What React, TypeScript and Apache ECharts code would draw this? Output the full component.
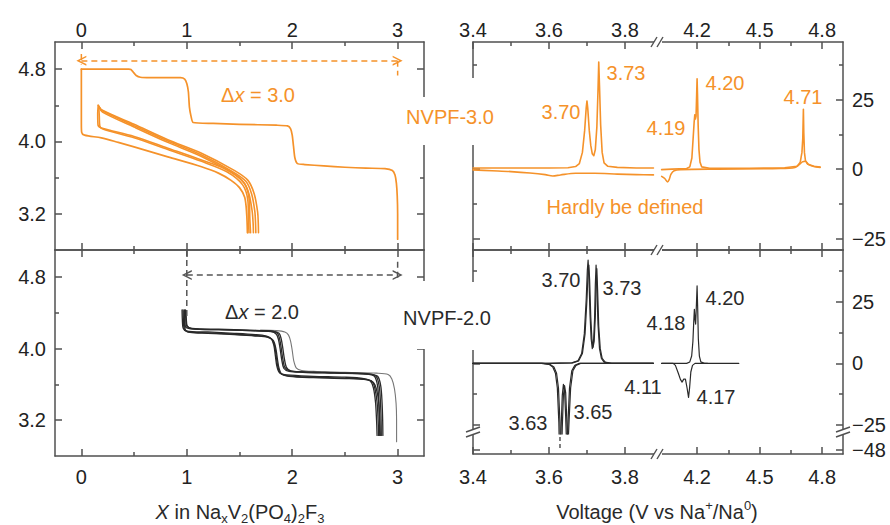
import React, { useEffect, useRef } from 'react';
import * as echarts from 'echarts';

const ORANGE = '#F5922A';
const INK = '#2a2a2a';
const FRAME = '#505050';
const FONT = '"Liberation Sans", Arial, Helvetica, sans-serif';
const FS = 20;

// ---------- tick values ----------
const X_MAJOR = [0, 1, 2, 3];
const X_MINOR = [0.5, 1.5, 2.5];
const V_MAJOR = [3.2, 4.0, 4.8];
const V_MINOR = [3.6, 4.4];
const LOW_MAJOR = [3.4, 3.6, 3.8];
const LOW_MINOR = [3.5, 3.7];
const HIGH_MAJOR = [4.2, 4.5, 4.8];
const HIGH_MINOR = [4.35, 4.65];
const DQ_MAJOR = [-25, 0, 25];
const DQ_MINOR = [-12.5, 12.5, 37.5];
const STRIP_MAJOR = [-48];

// ---------- axis ranges ----------
const X_RANGE = [-0.25, 3.25];
const V_RANGE = [2.8, 5.1];
const LOW_RANGE = [3.4, 3.887];
const HIGH_RANGE = [4.0125, 4.9];
const DQ3_RANGE = [-29.1, 45.7];
const DQ2_RANGE = [-28.7, 46.1];
const STRIP_RANGE = [-49.6, -41.4];

// ---------- NVPF-3.0 voltage profiles (x in NaxV2(PO4)2F3, V) ----------
const NVPF3_FIRST_CHARGE = [
  [3.0, 2.92], [3.0, 3.2], [2.996, 3.4], [2.988, 3.54], [2.975, 3.63], [2.95, 3.68], [2.88, 3.7],
  [2.7, 3.705], [2.5, 3.715], [2.3, 3.73], [2.12, 3.745], [2.05, 3.755], [2.025, 3.82], [2.012, 3.95],
  [2.0, 4.07], [1.985, 4.14], [1.955, 4.172], [1.85, 4.18], [1.5, 4.19], [1.25, 4.2], [1.06, 4.21],
  [1.04, 4.28], [1.025, 4.38], [1.015, 4.55], [1.0, 4.64], [0.98, 4.69], [0.94, 4.705], [0.8, 4.705],
  [0.65, 4.705], [0.56, 4.71], [0.52, 4.73], [0.49, 4.77], [0.47, 4.795], [0.45, 4.8], [0.2, 4.8], [0.0, 4.8],
];
const NVPF3_FIRST_DISCHARGE = [
  [0.0, 4.8], [0.0, 4.5], [0.0, 4.2], [0.003, 4.1], [0.03, 4.07], [0.19, 4.04], [0.35, 3.99], [0.5, 3.94],
  [0.82, 3.83], [1.14, 3.72], [1.3, 3.65], [1.42, 3.57], [1.5, 3.49], [1.55, 3.38], [1.568, 3.2], [1.575, 2.99],
];
const NVPF3_CHARGE_2 = [
  [1.68, 2.99], [1.678, 3.1], [1.672, 3.22], [1.64, 3.42], [1.58, 3.57], [1.45, 3.68], [1.14, 3.87],
  [0.82, 4.02], [0.5, 4.19], [0.19, 4.35], [0.16, 4.4],
];
const NVPF3_CHARGE_3 = [
  [1.655, 2.99], [1.652, 3.1], [1.645, 3.23], [1.615, 3.42], [1.56, 3.56], [1.43, 3.67], [1.13, 3.855],
  [0.82, 4.005], [0.5, 4.175], [0.2, 4.34], [0.165, 4.39],
];
const NVPF3_CHARGE_4 = [
  [1.632, 2.99], [1.629, 3.1], [1.62, 3.23], [1.59, 3.42], [1.54, 3.55], [1.42, 3.66], [1.13, 3.84],
  [0.82, 3.99], [0.5, 4.16], [0.2, 4.325], [0.17, 4.38],
];
const NVPF3_DISCHARGE_2 = [
  [0.16, 4.4], [0.155, 4.3], [0.158, 4.18], [0.19, 4.15], [0.5, 4.056], [0.82, 3.926], [1.14, 3.795],
  [1.39, 3.684], [1.546, 3.535], [1.593, 3.349], [1.598, 3.15], [1.605, 2.99],
];
const NVPF3_DISCHARGE_3 = [
  [0.165, 4.39], [0.17, 4.28], [0.175, 4.17], [0.21, 4.135], [0.5, 4.04], [0.82, 3.91], [1.14, 3.78],
  [1.38, 3.665], [1.53, 3.52], [1.58, 3.34], [1.585, 3.15], [1.59, 2.99],
];

// ---------- NVPF-2.0 voltage profiles ----------
const NVPF2_DISCHARGE_1 = [
  [0.955, 4.43], [0.958, 4.32], [0.965, 4.23], [1.0, 4.195], [1.2, 4.185], [1.45, 4.17], [1.65, 4.155],
  [1.75, 4.14], [1.8, 4.11], [1.825, 4.04], [1.84, 3.92], [1.855, 3.8], [1.88, 3.73], [1.95, 3.705],
  [2.2, 3.69], [2.5, 3.68], [2.68, 3.665], [2.74, 3.64], [2.77, 3.56], [2.79, 3.4], [2.8, 3.2], [2.805, 3.03],
];
const NVPF2_DISCHARGE_2 = [
  [0.965, 4.43], [0.968, 4.32], [0.975, 4.22], [1.02, 4.185], [1.2, 4.175], [1.45, 4.16], [1.65, 4.145],
  [1.76, 4.13], [1.81, 4.1], [1.835, 4.02], [1.85, 3.9], [1.865, 3.79], [1.89, 3.72], [1.96, 3.695],
  [2.2, 3.68], [2.5, 3.67], [2.7, 3.655], [2.76, 3.63], [2.785, 3.55], [2.805, 3.4], [2.815, 3.2], [2.82, 3.03],
];
const NVPF2_DISCHARGE_3 = [
  [0.975, 4.42], [0.978, 4.31], [0.985, 4.21], [1.03, 4.18], [1.2, 4.17], [1.45, 4.155], [1.65, 4.14],
  [1.77, 4.125], [1.82, 4.09], [1.845, 4.0], [1.86, 3.88], [1.875, 3.78], [1.9, 3.715], [1.97, 3.69],
  [2.2, 3.675], [2.5, 3.665], [2.71, 3.65], [2.77, 3.62], [2.8, 3.54], [2.82, 3.4], [2.83, 3.2], [2.835, 3.03],
];
const NVPF2_CHARGE_1 = [
  [2.83, 3.03], [2.828, 3.2], [2.822, 3.4], [2.81, 3.58], [2.78, 3.69], [2.7, 3.715], [2.4, 3.725],
  [2.1, 3.735], [1.97, 3.745], [1.92, 3.78], [1.9, 3.88], [1.885, 4.0], [1.87, 4.1], [1.85, 4.16],
  [1.8, 4.19], [1.6, 4.2], [1.3, 4.21], [1.05, 4.22], [0.99, 4.24], [0.98, 4.33], [0.978, 4.43],
];
const NVPF2_CHARGE_2 = [
  [2.845, 3.03], [2.843, 3.2], [2.837, 3.4], [2.825, 3.58], [2.795, 3.69], [2.71, 3.72], [2.4, 3.73],
  [2.1, 3.74], [1.98, 3.75], [1.93, 3.79], [1.91, 3.89], [1.895, 4.01], [1.88, 4.11], [1.86, 4.17],
  [1.81, 4.195], [1.6, 4.205], [1.3, 4.215], [1.05, 4.225], [1.0, 4.25], [0.99, 4.34], [0.988, 4.43],
];
const NVPF2_CHARGE_3 = [
  [2.86, 3.03], [2.858, 3.2], [2.852, 3.4], [2.84, 3.58], [2.81, 3.69], [2.72, 3.715], [2.4, 3.728],
  [2.1, 3.738], [1.99, 3.748], [1.945, 3.79], [1.925, 3.89], [1.91, 4.01], [1.895, 4.11], [1.875, 4.17],
  [1.82, 4.19], [1.6, 4.2], [1.3, 4.21], [1.05, 4.22], [1.005, 4.25], [0.995, 4.34], [0.993, 4.42],
];
const NVPF2_OUTLIER = [
  [2.99, 2.96], [2.99, 3.2], [2.985, 3.39], [2.97, 3.55], [2.945, 3.66], [2.91, 3.71], [2.8, 3.725],
  [2.5, 3.735], [2.2, 3.745], [2.09, 3.755], [2.04, 3.78], [2.015, 3.86], [2.0, 3.98], [1.985, 4.08],
  [1.965, 4.15], [1.93, 4.185], [1.85, 4.2], [1.7, 4.205],
];

// ---------- dQ/dV, NVPF-3.0 (V, dQ/dV) ----------
const NVPF3_DQ_CHARGE_LOW = [
  [3.4, 0.4], [3.5, 0.4], [3.6, 0.4], [3.65, 0.5], [3.67, 0.9], [3.68, 2], [3.688, 6], [3.694, 14],
  [3.698, 22], [3.7, 24.5], [3.702, 22], [3.706, 14], [3.71, 8.5], [3.714, 5.5], [3.718, 4.8], [3.722, 7],
  [3.726, 15], [3.729, 28], [3.731, 38.5], [3.733, 30], [3.736, 16], [3.74, 6], [3.745, 2.2], [3.755, 1],
  [3.78, 0.6], [3.83, 0.4], [3.875, 0.4],
];
const NVPF3_DQ_DISCHARGE_LOW = [
  [3.4, -0.3], [3.45, -0.6], [3.5, -0.9], [3.55, -1.4], [3.59, -2.0], [3.61, -2.5], [3.63, -2.1],
  [3.67, -1.5], [3.72, -1.5], [3.78, -1.8], [3.83, -2.0], [3.875, -2.1],
];
const NVPF3_DQ_CHARGE_HIGH = [
  [4.03, -0.2], [4.08, 0], [4.15, 0.2], [4.165, 0.8], [4.175, 4], [4.181, 11], [4.186, 17], [4.189, 19.5],
  [4.192, 18], [4.195, 19], [4.198, 27], [4.2, 32.5], [4.202, 27], [4.205, 16], [4.209, 7], [4.214, 2.5],
  [4.222, 0.8], [4.26, 0.3], [4.45, 0.3], [4.62, 0.5], [4.68, 1], [4.695, 2.5], [4.703, 6], [4.707, 11],
  [4.71, 21.5], [4.712, 13], [4.715, 6], [4.72, 3], [4.73, 1.8], [4.76, 1], [4.79, 0.7],
];
const NVPF3_DQ_DISCHARGE_HIGH = [
  [4.03, -2.6], [4.045, -3.4], [4.058, -4.6], [4.066, -3.8], [4.075, -1.8], [4.09, -0.6], [4.12, -0.2],
  [4.3, 0], [4.6, 0.2], [4.67, 0.6], [4.69, 1.6], [4.705, 2.6], [4.72, 2.8], [4.735, 1.6], [4.76, 0.9], [4.79, 0.6],
];

// ---------- dQ/dV, NVPF-2.0 ----------
const NVPF2_DQ_CHARGE_LOW_A = [
  [3.4, 0], [3.6, 0], [3.66, 0.2], [3.676, 1], [3.686, 4], [3.693, 12], [3.698, 26], [3.701, 38],
  [3.703, 42], [3.705, 36], [3.708, 20], [3.711, 10], [3.714, 6], [3.717, 8], [3.72, 18], [3.722, 32],
  [3.724, 40], [3.726, 32], [3.729, 16], [3.733, 6], [3.738, 2], [3.745, 0.5], [3.76, 0], [3.875, 0],
];
const NVPF2_DQ_CHARGE_LOW_B = [
  [3.4, 0], [3.6, 0], [3.662, 0.2], [3.678, 1], [3.688, 4], [3.695, 12], [3.7, 26], [3.703, 37],
  [3.705, 40], [3.707, 34], [3.71, 19], [3.713, 10], [3.716, 6.5], [3.719, 9], [3.722, 19], [3.724, 31],
  [3.726, 38.5], [3.728, 30], [3.731, 15], [3.735, 6], [3.74, 2], [3.748, 0.5], [3.765, 0], [3.875, 0],
];
const NVPF2_DQ_DISCHARGE_LOW_A = [
  [3.4, 0], [3.58, 0], [3.6, -0.4], [3.61, -1.5], [3.617, -4], [3.622, -10], [3.626, -24], [3.629, -47],
  [3.632, -26], [3.635, -13], [3.638, -8.5], [3.641, -11], [3.644, -22], [3.647, -36], [3.65, -24],
  [3.654, -10], [3.66, -3], [3.668, -0.8], [3.68, 0], [3.875, 0],
];
const NVPF2_DQ_DISCHARGE_LOW_B = [
  [3.4, 0], [3.585, 0], [3.603, -0.4], [3.613, -1.5], [3.62, -4], [3.625, -10], [3.629, -24], [3.632, -46],
  [3.635, -26], [3.638, -13], [3.641, -9], [3.644, -12], [3.647, -23], [3.65, -34], [3.653, -23],
  [3.657, -10], [3.663, -3], [3.671, -0.8], [3.683, 0], [3.875, 0],
];
const NVPF2_DQ_CHARGE_HIGH = [
  [4.03, 0], [4.15, 0], [4.165, 0.6], [4.174, 3], [4.18, 9], [4.184, 17], [4.187, 22], [4.19, 18],
  [4.193, 16], [4.196, 22], [4.2, 31.5], [4.203, 22], [4.206, 10], [4.211, 3], [4.218, 0.6], [4.235, 0], [4.4, 0],
];
const NVPF2_DQ_DISCHARGE_HIGH = [
  [4.03, 0], [4.085, 0], [4.096, -0.8], [4.11, -4], [4.12, -6.5], [4.128, -7.6], [4.136, -6.4], [4.144, -6.4],
  [4.152, -10], [4.159, -13.8], [4.164, -10], [4.17, -3.5], [4.178, -0.8], [4.19, 0], [4.25, 0],
];
const NVPF2_DQ_BROKEN_TAIL = [[3.629, -42.6], [3.629, -48]];

// ---------- guides ----------
const NVPF3_SPAN = [0, 3];
const NVPF3_SPAN_Y = 4.893;
const NVPF3_GUIDE_END = [[3, 4.893], [3, 4.73]];
const NVPF3_GUIDE_START = [[0, 4.967], [0, 4.85]];
const NVPF2_SPAN = [1, 3];
const NVPF2_SPAN_Y = 4.82;
const NVPF2_GUIDE_START = [[1, 5.1], [1, 4.35]];
const NVPF2_GUIDE_END = [[3, 4.97], [3, 4.78]];

const CHEVRON = 'path://M0,10 L5,0 L10,10 L8.4,10 L5,3.2 L1.6,10 Z';

function buildOption() {
  const xAxis: any[] = [];
  const yAxis: any[] = [];
  const frame = { color: FRAME, width: 1.5 };
  const f0 = (v: number) => String(v);
  const f1 = (v: number) => v.toFixed(1);
  const fdq = (v: number) => (v < 0 ? '\u2212' + Math.abs(v) : String(v));

  function add(list: any[], grid: number, range: number[], position: string, major: number[], minor: number[],
    line: boolean, labels: boolean, fmt?: (v: number) => string, margin = 8) {
    const idx = list.length;
    list.push({
      type: 'value', gridIndex: grid, min: range[0], max: range[1], position,
      axisLine: { show: line, onZero: false, lineStyle: frame },
      axisTick: major.length ? { show: true, inside: true, length: 7, customValues: major, lineStyle: frame } : { show: false },
      axisLabel: labels
        ? { show: true, customValues: major, formatter: fmt, color: '#222', fontSize: FS, fontFamily: FONT, margin }
        : { show: false },
      splitLine: { show: false },
      silent: true,
    });
    if (minor.length) {
      list.push({
        type: 'value', gridIndex: grid, min: range[0], max: range[1], position,
        axisLine: { show: false, onZero: false },
        axisTick: { show: true, inside: true, length: 4, customValues: minor, lineStyle: frame },
        axisLabel: { show: false }, splitLine: { show: false }, silent: true,
      });
    }
    return idx;
  }

  const grid = [
    { left: 55, top: 42, width: 369, height: 208 },
    { left: 55, top: 250, width: 369, height: 206 },
    { left: 473, top: 42, width: 185, height: 208 },
    { left: 658, top: 42, width: 185, height: 208 },
    { left: 473, top: 250, width: 185, height: 184 },
    { left: 658, top: 250, width: 185, height: 184 },
    { left: 473, top: 434, width: 185, height: 20 },
    { left: 658, top: 434, width: 185, height: 20 },
  ];

  const g0x = add(xAxis, 0, X_RANGE, 'bottom', X_MAJOR, X_MINOR, true, false);
  add(xAxis, 0, X_RANGE, 'top', X_MAJOR, X_MINOR, true, true, f0, 2);
  const g0y = add(yAxis, 0, V_RANGE, 'left', V_MAJOR, V_MINOR, true, true, f1, 9);
  add(yAxis, 0, V_RANGE, 'right', V_MAJOR, V_MINOR, true, false);

  const g1x = add(xAxis, 1, X_RANGE, 'bottom', X_MAJOR, X_MINOR, true, true, f0, 11);
  add(xAxis, 1, X_RANGE, 'top', X_MAJOR, X_MINOR, true, false);
  const g1y = add(yAxis, 1, V_RANGE, 'left', V_MAJOR, V_MINOR, true, true, f1, 9);
  add(yAxis, 1, V_RANGE, 'right', V_MAJOR, V_MINOR, true, false);

  const g2x = add(xAxis, 2, LOW_RANGE, 'top', LOW_MAJOR, LOW_MINOR, true, true, f1, 2);
  add(xAxis, 2, LOW_RANGE, 'bottom', LOW_MAJOR, LOW_MINOR, true, false);
  const g2y = add(yAxis, 2, DQ3_RANGE, 'left', DQ_MAJOR, DQ_MINOR, true, false);

  const g3x = add(xAxis, 3, HIGH_RANGE, 'top', HIGH_MAJOR, HIGH_MINOR, true, true, f1, 2);
  add(xAxis, 3, HIGH_RANGE, 'bottom', HIGH_MAJOR, HIGH_MINOR, true, false);
  const g3y = add(yAxis, 3, DQ3_RANGE, 'right', DQ_MAJOR, DQ_MINOR, true, true, fdq, 9);

  const g4x = add(xAxis, 4, LOW_RANGE, 'top', LOW_MAJOR, LOW_MINOR, true, false);
  const g4y = add(yAxis, 4, DQ2_RANGE, 'left', DQ_MAJOR, DQ_MINOR, true, false);

  const g5x = add(xAxis, 5, HIGH_RANGE, 'top', HIGH_MAJOR, HIGH_MINOR, true, false);
  const g5y = add(yAxis, 5, DQ2_RANGE, 'right', DQ_MAJOR, DQ_MINOR, true, true, fdq, 9);

  const g6x = add(xAxis, 6, LOW_RANGE, 'bottom', LOW_MAJOR, LOW_MINOR, true, true, f1, 13);
  const g6y = add(yAxis, 6, STRIP_RANGE, 'left', STRIP_MAJOR, [], true, false);

  add(xAxis, 7, HIGH_RANGE, 'bottom', HIGH_MAJOR, HIGH_MINOR, true, true, f1, 13);
  add(yAxis, 7, STRIP_RANGE, 'right', STRIP_MAJOR, [], true, true, fdq, 9);

  const ln = (data: number[][], xi: number, yi: number, color: string, width: number, smooth: number | boolean = 0.3, extra: any = {}) => ({
    type: 'line', xAxisIndex: xi, yAxisIndex: yi, data, symbol: 'none', showSymbol: false, smooth,
    lineStyle: { color, width, join: 'round', cap: 'round', ...(extra.lineStyle || {}) }, silent: true, z: 3,
    ...Object.fromEntries(Object.entries(extra).filter(([k]) => k !== 'lineStyle')),
  });

  const dashed = { lineStyle: { type: [6, 4], cap: 'butt' } };
  const series: any[] = [
    // NVPF-3.0 voltage
    ln(NVPF3_FIRST_CHARGE, g0x, g0y, ORANGE, 1.7, 0.2),
    ln(NVPF3_FIRST_DISCHARGE, g0x, g0y, ORANGE, 1.7, 0.3),
    ln(NVPF3_CHARGE_2, g0x, g0y, ORANGE, 1.6),
    ln(NVPF3_CHARGE_3, g0x, g0y, ORANGE, 1.6),
    ln(NVPF3_CHARGE_4, g0x, g0y, ORANGE, 1.6),
    ln(NVPF3_DISCHARGE_2, g0x, g0y, ORANGE, 1.6),
    ln(NVPF3_DISCHARGE_3, g0x, g0y, ORANGE, 1.6),
    ln(NVPF3_GUIDE_END, g0x, g0y, ORANGE, 1.5, false, dashed),
    ln(NVPF3_GUIDE_START, g0x, g0y, ORANGE, 1.5, false, {
      ...dashed,
      markLine: {
        silent: true, symbol: [CHEVRON, CHEVRON], symbolSize: 10, label: { show: false },
        lineStyle: { color: ORANGE, width: 1.5, type: [6, 4] }, emphasis: { disabled: true },
        data: [[{ coord: [NVPF3_SPAN[0], NVPF3_SPAN_Y] }, { coord: [NVPF3_SPAN[1], NVPF3_SPAN_Y] }]],
      },
    }),
    // NVPF-2.0 voltage
    ln(NVPF2_OUTLIER, g1x, g1y, '#777', 1.1),
    ln(NVPF2_DISCHARGE_1, g1x, g1y, INK, 1.3),
    ln(NVPF2_DISCHARGE_2, g1x, g1y, INK, 1.3),
    ln(NVPF2_DISCHARGE_3, g1x, g1y, INK, 1.3),
    ln(NVPF2_CHARGE_1, g1x, g1y, INK, 1.3),
    ln(NVPF2_CHARGE_2, g1x, g1y, INK, 1.3),
    ln(NVPF2_CHARGE_3, g1x, g1y, INK, 1.3),
    ln(NVPF2_GUIDE_END, g1x, g1y, '#555', 1.5, false, dashed),
    ln(NVPF2_GUIDE_START, g1x, g1y, '#555', 1.5, false, {
      ...dashed,
      markLine: {
        silent: true, symbol: [CHEVRON, CHEVRON], symbolSize: 10, label: { show: false },
        lineStyle: { color: '#555', width: 1.5, type: [6, 4] }, emphasis: { disabled: true },
        data: [[{ coord: [NVPF2_SPAN[0], NVPF2_SPAN_Y] }, { coord: [NVPF2_SPAN[1], NVPF2_SPAN_Y] }]],
      },
    }),
    // NVPF-3.0 dQ/dV
    ln(NVPF3_DQ_CHARGE_LOW, g2x, g2y, ORANGE, 1.6, false),
    ln(NVPF3_DQ_DISCHARGE_LOW, g2x, g2y, ORANGE, 1.6, 0.3),
    ln(NVPF3_DQ_CHARGE_HIGH, g3x, g3y, ORANGE, 1.6, false),
    ln(NVPF3_DQ_DISCHARGE_HIGH, g3x, g3y, ORANGE, 1.6, 0.3),
    // NVPF-2.0 dQ/dV
    ln(NVPF2_DQ_CHARGE_LOW_A, g4x, g4y, INK, 1.2, false),
    ln(NVPF2_DQ_CHARGE_LOW_B, g4x, g4y, INK, 1.2, false),
    ln(NVPF2_DQ_DISCHARGE_LOW_A, g4x, g4y, INK, 1.2, false),
    ln(NVPF2_DQ_DISCHARGE_LOW_B, g4x, g4y, INK, 1.2, false),
    ln(NVPF2_DQ_CHARGE_HIGH, g5x, g5y, INK, 1.2, false),
    ln(NVPF2_DQ_DISCHARGE_HIGH, g5x, g5y, INK, 1.2, false),
    ln(NVPF2_DQ_BROKEN_TAIL, g6x, g6y, INK, 1.2, false, { lineStyle: { type: [4, 3], cap: 'butt' } }),
  ];

  const txt = (x: number, y: number, text: string, fill: string, extra: any = {}) => ({
    type: 'text', x, y, z: 101, silent: true,
    style: { text, fill, fontSize: FS, fontFamily: FONT, align: 'center', verticalAlign: 'middle', ...extra },
  });
  const white = (x: number, y: number, w: number, h: number) => ({
    type: 'rect', z: 100, silent: true, shape: { x, y, width: w, height: h }, style: { fill: '#fff' },
  });
  const stroke = (x1: number, y1: number, x2: number, y2: number) => ({
    type: 'line', z: 102, silent: true, shape: { x1, y1, x2, y2 }, style: { stroke: FRAME, lineWidth: 1.4 },
  });
  const xBreak = (y: number) => [white(654, y - 2, 8, 4), stroke(651, y + 5, 657, y - 5), stroke(657, y + 5, 663, y - 5)];
  const yBreak = (x: number) => [white(x - 2, 430, 4, 5), stroke(x - 7, 432, x + 7, 427), stroke(x - 7, 437, x + 7, 432)];

  const richDx = (fill: string) => ({
    i: { fontStyle: 'italic', fontSize: FS, fontFamily: FONT, fill },
    n: { fontSize: FS, fontFamily: FONT, fill },
  });
  const richTitle = {
    n: { fontSize: FS, fontFamily: FONT, fill: INK, lineHeight: 26 },
    i: { fontSize: FS, fontFamily: FONT, fill: INK, fontStyle: 'italic', lineHeight: 26 },
    s: { fontSize: 13, fontFamily: FONT, fill: INK, lineHeight: 14, verticalAlign: 'bottom' },
    p: { fontSize: 13, fontFamily: FONT, fill: INK, lineHeight: 14, verticalAlign: 'top' },
  };

  const graphic: any[] = [
    white(414, 97, 14, 48), white(469, 78, 13, 67),
    white(414, 281, 14, 68), white(469, 282, 13, 68),
    ...xBreak(42), ...xBreak(250), ...xBreak(454),
    ...yBreak(473), ...yBreak(843),
    txt(450, 117, 'NVPF-3.0', ORANGE),
    txt(447, 318, 'NVPF-2.0', INK),
    txt(258, 95, '{n|\u0394}{i|x}{n| = 3.0}', ORANGE, { rich: richDx(ORANGE) }),
    txt(262, 312, '{n|\u0394}{i|x}{n| = 2.0}', INK, { rich: richDx(INK) }),
    txt(561, 112, '3.70', ORANGE), txt(626, 73, '3.73', ORANGE),
    txt(666, 128, '4.19', ORANGE), txt(725, 83, '4.20', ORANGE),
    txt(803, 97, '4.71', ORANGE), txt(625, 207, 'Hardly be defined', ORANGE),
    txt(561, 280, '3.70', INK), txt(622, 288, '3.73', INK),
    txt(666, 323, '4.18', INK), txt(725, 298, '4.20', INK),
    txt(643, 387, '4.11', INK), txt(716, 397, '4.17', INK),
    txt(593, 412, '3.65', INK), txt(528, 423, '3.63', INK),
    txt(240, 512, '{i|X}{n| in Na}{s|x}{n|V}{s|2}{n|(PO}{s|4}{n|)}{s|2}{n|F}{s|3}', INK, { rich: richTitle }),
    txt(657, 512, '{n|Voltage (V vs Na}{p|+}{n|/Na}{p|0}{n|)}', INK, { rich: richTitle }),
  ];

  return { animation: false, backgroundColor: '#fff', grid, xAxis, yAxis, series, graphic };
}

export default function App() {
  const ref = useRef<HTMLDivElement>(null);
  useEffect(() => {
    const chart = echarts.init(ref.current as HTMLDivElement, null, { renderer: 'svg' });
    chart.setOption(buildOption() as any);
    return () => chart.dispose();
  }, []);
  return <div ref={ref} style={{ position: 'absolute', left: 0, top: 0, width: 890, height: 525, background: '#fff' }} />;
}
